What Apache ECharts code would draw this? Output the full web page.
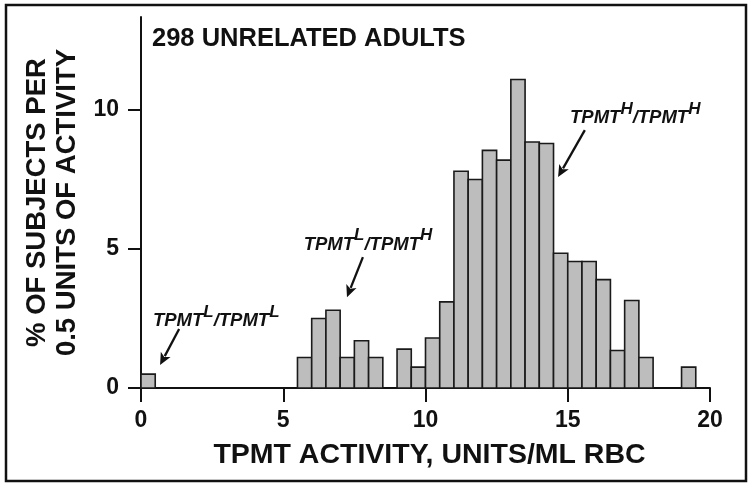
<!DOCTYPE html>
<html>
<head>
<meta charset="utf-8">
<script src="https://cdn.jsdelivr.net/npm/echarts@6/dist/echarts.min.js"></script>
<style>html,body{margin:0;padding:0;background:#fff;}#c{width:750px;height:488px;}</style>
</head>
<body>
<div id="c"></div>
<script>
// Histogram bins (start of each 0.5-unit bin)
var binStarts = [0,0.5,1,1.5,2,2.5,3,3.5,4,4.5,5,5.5,6,6.5,7,7.5,8,8.5,9,9.5,
                 10,10.5,11,11.5,12,12.5,13,13.5,14,14.5,15,15.5,16,16.5,17,17.5,18,18.5,19,19.5];
// % of subjects per 0.5 units of activity
var percents = [0.5,0,0,0,0,0,0,0,0,0,0,1.1,2.5,2.8,1.1,1.7,1.1,0,1.4,0.75,
                1.8,3.1,7.8,7.5,8.55,8.2,11.1,8.85,8.8,4.85,4.55,4.55,3.9,1.35,3.15,1.1,0,0,0.75,0];
var binWidth = 0.5;
var xTicks = [0,5,10,15,20];
var yTicks = [0,5,10];
var titleText = '298 UNRELATED ADULTS';
var xName = 'TPMT ACTIVITY, UNITS/ML RBC';
var yName = '% OF SUBJECTS PER\n0.5 UNITS OF ACTIVITY';
// annotations: superscripts, text anchor (data), arrow start (data), arrow tip (data)
var annotations = [
  {a:'L', b:'L', text:[0.42, 2.55], from:[1.34, 2.12], to:[0.67, 0.83]},
  {a:'L', b:'H', text:[5.72, 5.3], from:[7.8, 4.71], to:[7.24, 3.27]},
  {a:'H', b:'H', text:[15.08, 9.85], from:[15.6, 9.28], to:[14.66, 7.59]}
];

var chart = echarts.init(document.getElementById('c'));
var FONT = '"Liberation Sans", Arial, sans-serif';
var data = binStarts.map(function(s,i){return [s, percents[i]];});

chart.setOption({
  animation:false,
  grid:{left:141, right:40, top:17, bottom:100},
  xAxis:{
    type:'value', min:0, max:20, interval:5,
    axisLine:{show:true, lineStyle:{color:'#111', width:2}},
    axisTick:{show:true, length:14, customValues:xTicks, lineStyle:{color:'#111', width:2}},
    axisLabel:{margin:21, customValues:xTicks, color:'#111', fontSize:23, fontWeight:'bold', fontFamily:FONT},
    splitLine:{show:false},
    name:xName, nameLocation:'middle', nameGap:53,
    nameTextStyle:{color:'#111', fontSize:28.5, fontWeight:'bold', fontFamily:FONT, padding:[0,0,0,8]}
  },
  yAxis:{
    type:'value', min:0, max:13.35, interval:5,
    axisLine:{show:true, lineStyle:{color:'#111', width:2}},
    axisTick:{show:true, length:13, customValues:yTicks, lineStyle:{color:'#111', width:2}},
    axisLabel:{margin:22, customValues:yTicks, color:'#111', fontSize:23, fontWeight:'bold', fontFamily:FONT},
    splitLine:{show:false},
    name:yName, nameLocation:'middle', nameGap:53, nameRotate:90,
    nameTextStyle:{color:'#111', fontSize:27.5, fontWeight:'bold', fontFamily:FONT, lineHeight:30}
  },
  series:[{
    type:'custom',
    data:data,
    renderItem:function(params, api){
      var x0 = api.value(0), y = api.value(1);
      if (!y) return null;
      var p0 = api.coord([x0, y]);
      var p1 = api.coord([x0 + binWidth, 0]);
      return {type:'rect', shape:{x:p0[0], y:p0[1], width:p1[0]-p0[0], height:p1[1]-p0[1]},
        style:{fill:'#bdbdbd', stroke:'#1a1a1a', lineWidth:1.6}};
    }
  }]
});

function arrowEls(p, q){
  var dx=q[0]-p[0], dy=q[1]-p[1], L=Math.sqrt(dx*dx+dy*dy), ux=dx/L, uy=dy/L;
  var hl=12, hw=5.5;
  var bx=q[0]-ux*hl, by=q[1]-uy*hl;
  return [
    {type:'line', shape:{x1:p[0], y1:p[1], x2:bx+ux*2, y2:by+uy*2}, style:{stroke:'#111', lineWidth:2.3}},
    {type:'polygon', shape:{points:[[q[0],q[1]],[bx-uy*hw,by+ux*hw],[bx+ux*3,by+uy*3],[bx+uy*hw,by-ux*hw]]}, style:{fill:'#111'}}
  ];
}

var g = [
  {type:'rect', shape:{x:6, y:5, width:740, height:476}, style:{fill:'none', stroke:'#111', lineWidth:2.5}},
  {type:'text', left:152, top:26, style:{text:titleText, fill:'#111', font:'bold 25.5px '+FONT}}
];
annotations.forEach(function(an){
  var t = chart.convertToPixel({gridIndex:0}, an.text);
  g.push({type:'text', x:t[0], y:t[1], style:{
    text:'{m|TPMT}{s|'+an.a+'}{m|/TPMT}{s|'+an.b+'}',
    rich:{
      m:{fontSize:18.5, fontStyle:'italic', fontWeight:'bold', fontFamily:FONT, fill:'#111', verticalAlign:'bottom', lineHeight:27},
      s:{fontSize:17, fontStyle:'italic', fontWeight:'bold', fontFamily:FONT, fill:'#111', verticalAlign:'top', lineHeight:17}
    },
    verticalAlign:'middle'
  }});
  var p = chart.convertToPixel({gridIndex:0}, an.from);
  var q = chart.convertToPixel({gridIndex:0}, an.to);
  arrowEls(p,q).forEach(function(e){g.push(e);});
});
chart.setOption({graphic:g});
</script>
</body>
</html>
